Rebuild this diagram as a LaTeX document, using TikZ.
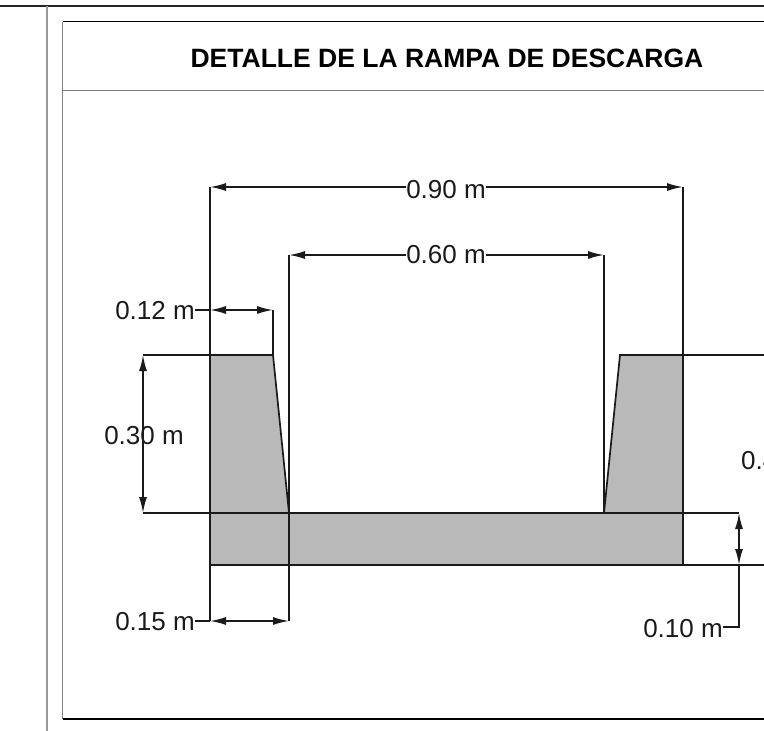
\documentclass[tikz,border=0pt]{standalone}
\usepackage{fontspec}
\setmainfont{Liberation Sans}
\usetikzlibrary{arrows.meta}
\definecolor{wallgray}{HTML}{B9B9B9}
\definecolor{framegray}{HTML}{808080}
\definecolor{inkdark}{HTML}{1A1A1A}
\tikzset{
  dimlabel/.style={inner sep=0pt,text=inkdark,font=\fontsize{26}{30}\selectfont},
  titlelabel/.style={inner sep=0pt,text=black,font=\bfseries\fontsize{26.5}{30}\selectfont},
  line/.style={line width=1.7pt,draw=inkdark},
  dimtip/.style={line,-{Latex[length=16pt,width=8pt]}},
  dimboth/.style={line,{Latex[length=16pt,width=8pt]}-{Latex[length=16pt,width=8pt]}}
}
\begin{document}
\begin{tikzpicture}[x=1pt,y=-1pt]
                  \useasboundingbox (0,0) rectangle (764,731);
                  \clip (0,0) rectangle (764,731);
                  % frame
                  \draw[line width=2pt,draw=black!85] (0,6) -- (764,6);
                  \draw[line width=2pt,draw=framegray!80] (47,6) -- (47,731);
                  \draw[line width=1.4pt,draw=black] (764,21.5) -- (62.5,21.5);
                  \draw[line width=1.5pt,draw=framegray] (62.5,21.5) -- (62.5,719);
                  \draw[line width=1.1pt,draw=black] (62.5,719) -- (764,719);
                  \draw[line width=1.3pt,draw=framegray] (62.5,90.5) -- (764,90.5);
                  \node[titlelabel] (title) at (447,58) {DETALLE DE LA RAMPA DE DESCARGA};
                  % section
                  \fill[wallgray] (210,355) -- (273,355) -- (289,513) -- (604,513) -- (620,355)
                        -- (683,355) -- (683,565) -- (210,565) -- cycle;
                  \coordinate (a) at (210,187);
                  \coordinate (b) at (683,187);
                  \coordinate (c) at (289,255);
                  \coordinate (d) at (604,255);
                  \coordinate (e) at (210,310);
                  \coordinate (f) at (273,310);
                  \coordinate (g) at (210,621);
                  \coordinate (h) at (289,621);
                  \coordinate (i) at (143,355);
                  \coordinate (j) at (143,513);
                  \coordinate (k) at (739,513);
                  \coordinate (l) at (739,565);
                  \coordinate (m) at (739,627);
                  \coordinate (n) at (273,355);
                  \coordinate (o) at (620,355);
                  \coordinate (p) at (683,355);
                  \coordinate (q) at (683,565);
                  \coordinate (r) at (289,513);
                  \coordinate (s) at (604,513);
                  \coordinate (t) at (210,565);
                  \coordinate (u) at (764,355);
                  \coordinate (v) at (764,565);
                  \draw[line] (a) -- (g);
                  \draw[line] (c) -- (h);
                  \draw[line] (f) -- (n) -- (r);
                  \draw[line] (d) -- (s) -- (o) -- (u);
                  \draw[line] (b) -- (q) -- (v);
                  \draw[line] (i) -- (n);
                  \draw[line] (j) -- (k);
                  \draw[line] (t) -- (q);
                  % dimensions
                  \node[dimlabel] (w90) at (446,190) {0.90 m};
                  \node[dimlabel] (w60) at (446,255) {0.60 m};
                  \node[dimlabel] (w12) at (155,311) {0.12 m};
                  \node[dimlabel] (h30) at (144,436) {0.30 m};
                  \node[dimlabel] (w15) at (155,622) {0.15 m};
                  \node[dimlabel] (h10) at (683,629) {0.10 m};
                  \node[dimlabel,anchor=west] (h40) at (741,461) {0.4};
                  \draw[dimtip] (w90.east |- b) -- (b);
                  \draw[dimtip] (w90.west |- a) -- (a);
                  \draw[dimtip] (w60.east |- d) -- (d);
                  \draw[dimtip] (w60.west |- c) -- (c);
                  \draw[line] (w12.east |- e) -- (e);
                  \draw[dimboth] (e) -- (f);
                  \draw[line] (w15.east |- g) -- (g);
                  \draw[dimboth] (g) -- (h);
                  \draw[dimboth] (i) -- (j);
                  \draw[dimboth] (k) -- (l);
                  \draw[line] (l) -- (m) -- (h10.east |- m);
\end{tikzpicture}
\end{document}
